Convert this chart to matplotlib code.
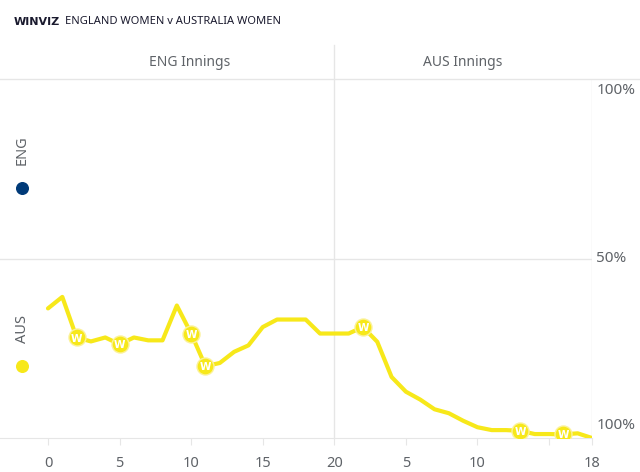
import matplotlib.pyplot as plt
from matplotlib.lines import Line2D

plt.rcParams['font.family'] = ['Noto Sans', 'DejaVu Sans']

# ENG win probability (%) after each over; overs 0-20 ENG innings, then AUS overs 1-18
eng_overs = list(range(0, 21))
eng_prob = [36.1, 39.3, 28.0, 26.9, 28.0, 26.1, 28.0, 27.2, 27.2, 36.9, 29.1,
            20.0, 20.9, 24.0, 25.8, 30.9, 33.0, 33.0, 33.0, 29.1, 29.1]
aus_overs = list(range(1, 19))
aus_prob = [29.1, 30.9, 26.8, 17.0, 12.9, 10.7, 8.0, 6.9, 4.8, 3.0,
            2.2, 2.2, 2.0, 1.1, 1.1, 1.0, 1.3, 0.0]
eng_wkts = [2, 5, 10, 11]
aus_wkts = [2, 13, 16]

tick_pos = [0, 5, 10, 15, 20, 25, 30, 35, 38]
tick_labels = ['0', '5', '10', '15', '20', '5', '10', '', '18']

yellow = '#f7e81a'
navy = '#003a78'
grey = '#5f6368'
grid = '#e6e6e6'

x = eng_overs + [20 + o for o in aus_overs]
y = eng_prob + aus_prob
wx = eng_wkts + [20 + o for o in aus_wkts]
wy = [y[x.index(w)] for w in wx]

fig = plt.figure(figsize=(6.4, 4.72), dpi=100)
ax = fig.add_axes([0, 34 / 472, 592 / 640, (438 - 79) / 472])
ax.set_xlim(-48 / (544 / 38), 38)
ax.set_ylim(0, 100)

for s in ['top', 'left', 'right']:
    ax.spines[s].set_visible(False)
ax.spines['bottom'].set_color(grid)
ax.axhline(50, color=grid, lw=1)
ax.axvline(20, color=grid, lw=1, ymax=1.095, clip_on=False)
ax.axvline(38, color=grid, lw=1)

ax.plot(x, y, color=yellow, lw=3, solid_joinstyle='round', solid_capstyle='round', zorder=3)
ax.scatter(wx, wy, s=150, color=yellow, edgecolor='#fbf29a', linewidth=1, zorder=4)
for a, b in zip(wx, wy):
    ax.text(a, b - 0.3, 'W', color='white', fontsize=7.5, fontweight='bold',
            family='DejaVu Sans', ha='center', va='center', zorder=5)

ax.set_xticks(tick_pos)
ax.set_xticklabels(tick_labels)
ax.tick_params(axis='x', length=5, color=grid, labelcolor=grey, labelsize=10.5, pad=8)
ax.set_yticks([])

# right-side percentage labels
ax.text(38.3, 99, '100%', color=grey, fontsize=11, va='top', ha='left', clip_on=False)
ax.text(38.3, 50, '50%', color=grey, fontsize=11, va='center', ha='left', clip_on=False)
ax.text(38.3, 1.5, '100%', color=grey, fontsize=11, va='bottom', ha='left', clip_on=False)

# legend dots
ax.scatter([-1.8], [69.5], s=70, color=navy, clip_on=False, zorder=5)
ax.text(-1.8, 76, 'ENG', rotation=90, color=grey, fontsize=10.5, ha='center', va='bottom')
ax.scatter([-1.8], [20], s=70, color=yellow, clip_on=False, zorder=5)
ax.text(-1.8, 26.5, 'AUS', rotation=90, color=grey, fontsize=10.5, ha='center', va='bottom')

# header
fig.add_artist(Line2D([0, 1], [1 - 79 / 472] * 2, color=grid, lw=1))
fig.text(190 / 640, 1 - 62 / 472, 'ENG Innings', color=grey, fontsize=10, ha='center', va='center')
fig.text(463 / 640, 1 - 62 / 472, 'AUS Innings', color=grey, fontsize=10, ha='center', va='center')
t1 = fig.text(14 / 640, 1 - 22 / 472, 'WINVIZ', color='#1a1a2e', fontsize=8,
              fontweight='bold', family='DejaVu Sans', va='center')
fig.canvas.draw()
x_end = t1.get_window_extent().x1 + 5
fig.text(x_end / 640, 1 - 22 / 472, 'ENGLAND WOMEN v AUSTRALIA WOMEN', color='#1a1a2e',
         fontsize=8, va='center')

fig.savefig('out.png', dpi=100)
